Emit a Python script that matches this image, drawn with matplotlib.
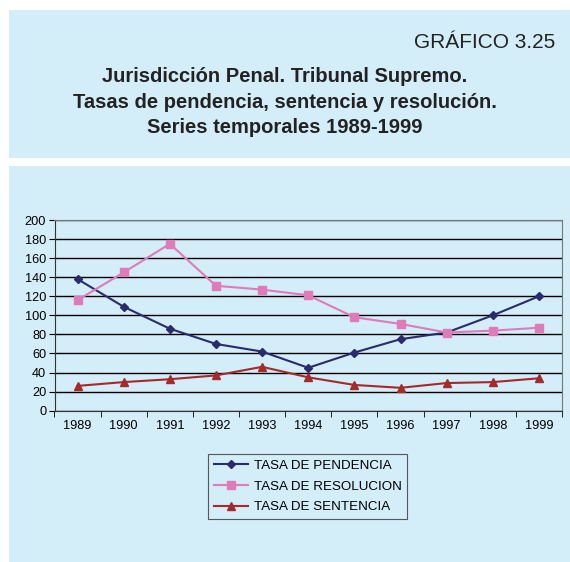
import matplotlib.pyplot as plt
from matplotlib.patches import Rectangle

plt.rcParams['font.family'] = ['Liberation Sans', 'DejaVu Sans']

years = ['1989', '1990', '1991', '1992', '1993', '1994', '1995', '1996', '1997', '1998', '1999']
pendencia = [138, 109, 86, 70, 62, 45, 61, 75, 82, 100, 120]
resolucion = [116, 145, 175, 131, 127, 121, 98, 91, 82, 84, 87]
sentencia = [26, 30, 33, 37, 46, 35, 27, 24, 29, 30, 34]

bg = '#d3edf9'
W, H = 570, 562

fig = plt.figure(figsize=(5.7, 5.62), dpi=100)
fig.patch.set_facecolor('white')

# two light blue panels behind everything
fig.patches.append(Rectangle((9 / W, 1 - 158 / H), (570 - 9) / W, 148 / H,
                             transform=fig.transFigure, facecolor=bg, edgecolor='none', zorder=-2))
fig.patches.append(Rectangle((9 / W, 0), (570 - 9) / W, 1 - 166 / H,
                             transform=fig.transFigure, facecolor=bg, edgecolor='none', zorder=-2))

fig.text(555 / W, 1 - 42 / H, 'GRÁFICO 3.25', ha='right', va='center', fontsize=15, color='#222222')
fig.text(284.5 / W, 1 - 102 / H,
         'Jurisdicción Penal. Tribunal Supremo.\nTasas de pendencia, sentencia y resolución.\nSeries temporales 1989-1999',
         ha='center', va='center', fontsize=14.5, fontweight='bold', color='#222222', linespacing=1.45)

ax = fig.add_axes([54.5 / W, 1 - 410.7 / H, (562 - 54.5) / W, (410.7 - 220) / H])
ax.set_facecolor(bg)
x = range(len(years))
ax.plot(x, pendencia, color='#2a2a6e', marker='D', markersize=4, lw=1.5, label='TASA DE PENDENCIA')
ax.plot(x, resolucion, color='#e07ab8', marker='s', markersize=6, lw=1.5, label='TASA DE RESOLUCION')
ax.plot(x, sentencia, color='#a52a2a', marker='^', markersize=6, lw=1.5, label='TASA DE SENTENCIA')

ax.set_xlim(-0.5, len(years) - 0.5)
ax.set_ylim(0, 200)
ax.set_yticks(range(0, 201, 20))
ax.set_xticks(list(x))
ax.set_xticklabels(years)
ax.set_xticks([i - 0.5 for i in range(len(years) + 1)], minor=True)
ax.tick_params(axis='x', which='major', length=0, labelsize=9.2, pad=7)
ax.tick_params(axis='x', which='minor', length=4, direction='out')
ax.tick_params(axis='y', length=4, labelsize=9.2, pad=2)
ax.yaxis.grid(True, color='black', lw=1)
ax.set_axisbelow(True)
for s in ['left', 'bottom']:
    ax.spines[s].set_color('#333333')
for s in ['top', 'right']:
    ax.spines[s].set_color('#777777')

leg = fig.legend(loc='center', bbox_to_anchor=(307.5 / W, 1 - 486.5 / H), fontsize=9.6,
                 frameon=True, fancybox=False, edgecolor='#333333', facecolor=bg,
                 handlelength=2.6, handletextpad=0.4, labelspacing=0.62, borderpad=0.45)
leg.get_frame().set_linewidth(0.8)

fig.savefig('out.png', dpi=100)
